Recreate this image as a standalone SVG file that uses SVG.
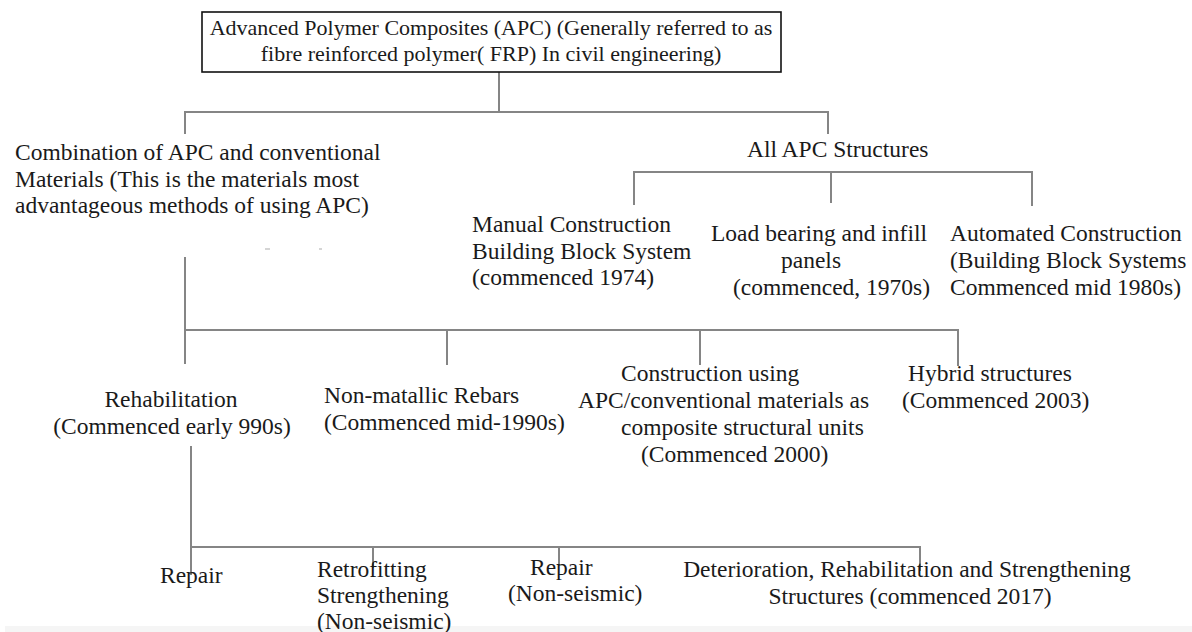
<svg xmlns="http://www.w3.org/2000/svg" width="1192" height="632" viewBox="0 0 1192 632" font-family="'Liberation Serif', 'DejaVu Serif', serif">
  <style>
    text { font-family: 'Liberation Serif', 'DejaVu Serif', serif; font-size: 23.5px; fill: #1a1a1a; }
    .mid { text-anchor: middle; }
    .title { font-size: 22px; }
    .link { stroke: #858585; stroke-width: 2; fill: none; }
    .frame { fill: #ffffff; stroke: #111111; stroke-width: 1.6; }
  </style>
  <rect x="0" y="0" width="1192" height="632" fill="#ffffff"/>
  <rect x="5" y="626" width="1187" height="6" fill="#f5f5f5"/>

  <!-- connectors -->
  <g id="connectors">
    <path class="link" d="M499 72 V112 M185 134 V112 H828 V134"/>
    <path class="link" d="M634 205 V172 H1032 V206 M831 172 V203"/>
    <path class="link" d="M973 172 H983" stroke="#6e6e6e" stroke-width="3"/>
    <path class="link" d="M185 257 V364 M185 330 H958 V366 M447 330 V365 M700 330 V365"/>
    <path class="link" d="M191 446 V575 M191 547 H920 V571 M373 547 V568 M559 547 V565"/>
    <path d="M265 249 H270 M319 249 H322" stroke="#c8c8c8" stroke-width="1.5"/>
  </g>

  <!-- root -->
  <g id="node-apc">
    <rect class="frame" x="202" y="12" width="579" height="60"/>
    <text class="mid title" x="491" y="35">Advanced Polymer Composites (APC) (Generally referred to as</text>
    <text class="mid title" x="491" y="61">fibre reinforced polymer( FRP) In civil engineering)</text>
  </g>

  <g id="node-combination">
    <text x="15" y="160">Combination of APC and conventional</text>
    <text x="15" y="186.5">Materials (This is the materials most</text>
    <text x="15" y="213">advantageous methods of using APC)</text>
  </g>

  <g id="node-all-apc">
    <text x="747" y="157">All APC Structures</text>
  </g>

  <g id="node-manual">
    <text x="472" y="232">Manual Construction</text>
    <text x="472" y="258.5">Building Block System</text>
    <text x="472" y="285">(commenced 1974)</text>
  </g>

  <g id="node-panels">
    <text x="711" y="241">Load bearing and infill</text>
    <text x="781" y="268">panels</text>
    <text x="733" y="295">(commenced, 1970s)</text>
  </g>

  <g id="node-automated">
    <text x="950" y="241">Automated Construction</text>
    <text x="950" y="268">(Building Block  Systems</text>
    <text x="950" y="295">Commenced mid 1980s)</text>
  </g>

  <g id="node-rehabilitation">
    <text class="mid" x="171" y="407">Rehabilitation</text>
    <text class="mid" x="172" y="434">(Commenced early 990s)</text>
  </g>

  <g id="node-rebars">
    <text x="324" y="403">Non-matallic Rebars</text>
    <text x="324" y="430">(Commenced mid-1990s)</text>
  </g>

  <g id="node-composite-units">
    <text x="621" y="381">Construction using</text>
    <text x="578" y="408">APC/conventional materials as</text>
    <text x="621" y="435">composite structural units</text>
    <text x="641" y="462">(Commenced 2000)</text>
  </g>

  <g id="node-hybrid">
    <text x="908" y="381">Hybrid structures</text>
    <text x="902" y="408">(Commenced 2003)</text>
  </g>

  <g id="node-repair">
    <text x="160" y="583">Repair</text>
  </g>

  <g id="node-retrofitting">
    <text x="317" y="577">Retrofitting</text>
    <text x="317" y="603">Strengthening</text>
    <text x="317" y="629">(Non-seismic)</text>
  </g>

  <g id="node-repair-nonseismic">
    <text x="530" y="575">Repair</text>
    <text x="508" y="601">(Non-seismic)</text>
  </g>

  <g id="node-deterioration">
    <text class="mid" x="907" y="577">Deterioration, Rehabilitation and Strengthening</text>
    <text class="mid" x="910" y="604">Structures (commenced 2017)</text>
  </g>
</svg>
